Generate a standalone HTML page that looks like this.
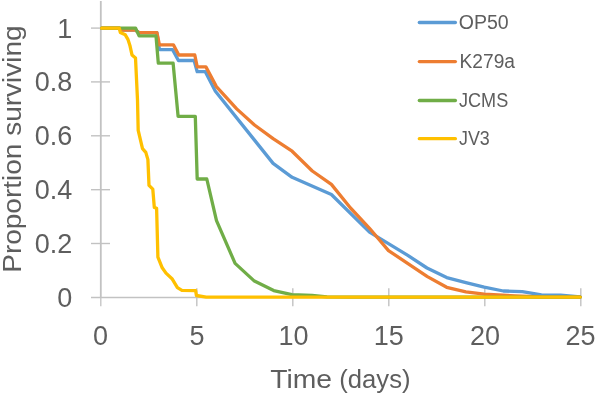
<!DOCTYPE html>
<html>
<head>
<meta charset="utf-8">
<title>Survival chart</title>
<style>
html,body{margin:0;padding:0;background:#ffffff;}
body{width:596px;height:395px;overflow:hidden;position:relative;font-family:"Liberation Sans",sans-serif;}
svg{position:absolute;left:0;top:0;display:block;filter:blur(0.45px);}
text{font-family:"Liberation Sans",sans-serif;fill:#5e5e5e;}
.ax{stroke:#c2c2c2;fill:none;}
.ln{fill:none;stroke-width:3.3;stroke-linejoin:round;stroke-linecap:round;}
</style>
</head>
<body>
<svg width="596" height="395" viewBox="0 0 596 395">
<rect x="0" y="0" width="596" height="395" fill="#ffffff"/>
<!-- axes -->
<g class="ax">
<line x1="100.8" y1="1" x2="100.8" y2="297.4" stroke-width="1.8"/>
<line x1="100.8" y1="297.4" x2="100.8" y2="306.3" stroke-width="1.3"/>
<line x1="91" y1="297.4" x2="580.8" y2="297.4" stroke-width="1.5"/>
<g stroke-width="1.4">
<line x1="91" y1="28.1" x2="110" y2="28.1"/>
<line x1="91" y1="81.9" x2="110" y2="81.9"/>
<line x1="91" y1="135.8" x2="110" y2="135.8"/>
<line x1="91" y1="189.7" x2="110" y2="189.7"/>
<line x1="91" y1="243.5" x2="110" y2="243.5"/>
<line x1="196.8" y1="288.3" x2="196.8" y2="306.3"/>
<line x1="292.8" y1="288.3" x2="292.8" y2="306.3"/>
<line x1="388.8" y1="288.3" x2="388.8" y2="306.3"/>
<line x1="484.8" y1="288.3" x2="484.8" y2="306.3"/>
<line x1="580.8" y1="288.3" x2="580.8" y2="306.3"/>
</g>
</g>
<!-- series -->
<polyline class="ln" stroke="#5b9bd5" points="101.7,28.2 119.3,28.2 120.5,30.2 135.5,30.2 139,32.7 156.9,32.7 159.4,49.6 172.6,49.6 178.4,60.5 194.1,60.5 197.2,71.7 205.3,71.7 215.4,91.2 273.1,163.4 292.1,177.3 331.4,194.5 369.5,232.1 407.8,255.4 427,268 446.7,277.6 465.9,282.6 484.2,287.2 503.3,291 522.3,291.6 541.4,294.8 560.6,295.2 580.2,296.9"/>
<polyline class="ln" stroke="#ed7d31" points="101.7,28.2 119.3,28.2 120.5,30.2 135.5,30.2 139,32.7 156.9,32.7 159.4,44.8 173.4,44.8 178.8,55 194.8,55 197.2,66.9 205.9,66.9 216.4,86.6 236.7,108.9 254.5,125 273.1,138.6 292.1,151.2 312.3,171 331.4,184.4 350.5,208 369.5,228.3 388.5,250.6 427.4,276.6 446.7,287.3 465.9,291.8 484.2,294.2 515,295.8 541,297 580.2,297.1"/>
<polyline class="ln" stroke="#70ad47" points="101.7,28.2 135.6,28.2 139.1,35.9 156,35.9 158.3,63.2 173.1,63.2 178.1,116.4 195.3,116.4 197.2,179 206.8,179 216.5,220.6 235.1,263.4 254.4,281.1 273.7,290.6 291.9,294.7 312,295.4 327,296.9 350,297.1 580.2,297.1"/>
<polyline class="ln" stroke="#ffc000" points="101.7,28.2 119.3,28.2 120.3,32.4 125.3,34.8 127.9,39.3 129.9,45.4 132,54.9 135.5,57.9 137.5,100 138.2,130.4 142.5,148.6 145.8,152.4 147.9,159.6 149,185.4 152.8,189.2 154.3,207.4 156.6,208.2 157.9,257.1 162.2,267.8 166,273.1 172,278.7 177.4,287.6 181.9,290.3 195.6,290.6 196.4,295.5 206.2,297.1 580.2,297.1"/>
<!-- legend -->
<g class="ln">
<line x1="419.3" y1="22.5" x2="455.4" y2="22.5" stroke="#5b9bd5"/>
<line x1="419.3" y1="61.6" x2="455.4" y2="61.6" stroke="#ed7d31"/>
<line x1="419.3" y1="100.5" x2="455.4" y2="100.5" stroke="#70ad47"/>
<line x1="419.3" y1="138.7" x2="455.4" y2="138.7" stroke="#ffc000"/>
</g>
<g font-size="19.5">
<text id="l1" x="458.8" y="29">OP50</text>
<text id="l2" x="459.6" y="68" textLength="55.4" lengthAdjust="spacingAndGlyphs">K279a</text>
<text id="l3" x="459" y="106.9" textLength="49.2" lengthAdjust="spacingAndGlyphs">JCMS</text>
<text id="l4" x="459" y="145.3" textLength="30.8" lengthAdjust="spacingAndGlyphs">JV3</text>
</g>
<!-- y tick labels -->
<g font-size="27" text-anchor="end">
<text x="72.3" y="37.6">1</text>
<text x="72.3" y="91.4">0.8</text>
<text x="72.3" y="145.3">0.6</text>
<text x="72.3" y="199.2">0.4</text>
<text x="72.3" y="253.0">0.2</text>
<text x="72.3" y="306.9">0</text>
</g>
<!-- x tick labels -->
<g font-size="27" text-anchor="middle">
<text x="100.6" y="345.4">0</text>
<text x="197" y="345.4">5</text>
<text x="293.4" y="345.4">10</text>
<text x="388.7" y="345.4">15</text>
<text x="485" y="345.4">20</text>
<text x="580.6" y="345.4">25</text>
</g>
<!-- axis titles -->
<text id="xt1" x="270.3" y="387.5" font-size="26.6" textLength="61.8" lengthAdjust="spacingAndGlyphs">Time</text>
<text id="xt2" x="339.3" y="387.5" font-size="26.6" textLength="71.2" lengthAdjust="spacingAndGlyphs">(days)</text>
<text id="yt" transform="translate(21,272.8) rotate(-90)" font-size="25.8" textLength="247.5" lengthAdjust="spacingAndGlyphs">Proportion surviving</text>
</svg>
</body>
</html>
